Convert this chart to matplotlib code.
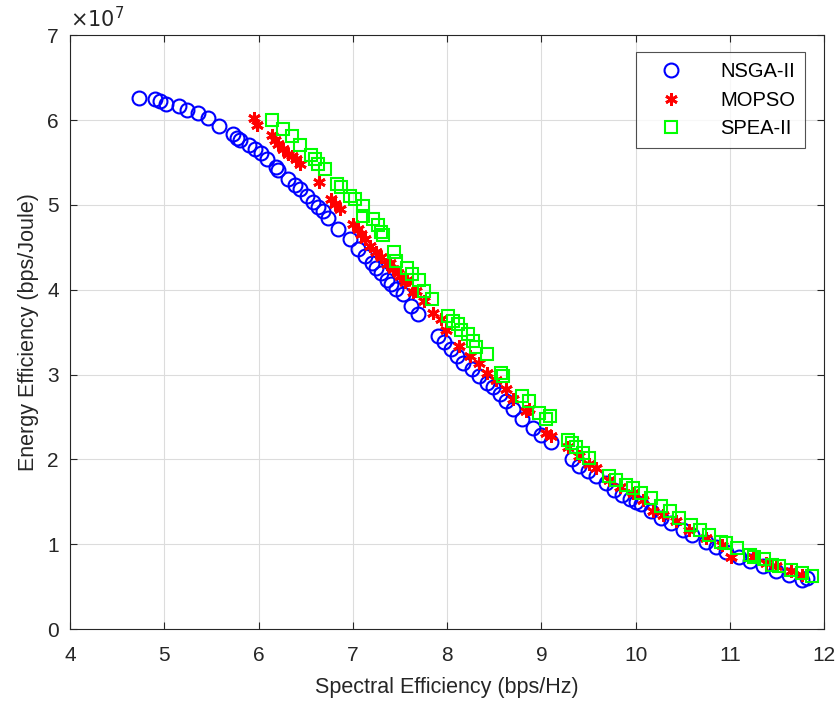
"""Pareto fronts: energy efficiency vs spectral efficiency for three optimisers."""

import matplotlib

matplotlib.use("Agg")
import matplotlib.pyplot as plt  # noqa: E402

plt.rcParams["font.family"] = ["Liberation Sans", "DejaVu Sans"]

# values (x in bps/Hz, y in units of 1e7 bps/Joule)
nsga_x = [4.73, 4.90, 4.95, 5.02, 5.16, 5.24, 5.36, 5.46, 5.58, 5.73, 5.77, 5.80,
          5.90, 5.96, 6.03, 6.09, 6.19, 6.21, 6.31, 6.39, 6.44, 6.51, 6.58, 6.63,
          6.68, 6.74, 6.84, 6.97, 7.06, 7.13, 7.20, 7.25, 7.30, 7.36, 7.41, 7.46,
          7.53, 7.62, 7.69, 7.90, 7.97, 8.04, 8.11, 8.17, 8.26, 8.34, 8.42, 8.49,
          8.56, 8.63, 8.70, 8.80, 8.91, 9.00, 9.10, 9.32, 9.40, 9.49, 9.58, 9.69,
          9.77, 9.86, 9.94, 10.00, 10.06, 10.16, 10.27, 10.37, 10.50, 10.60, 10.75,
          10.85, 10.96, 11.10, 11.21, 11.35, 11.49, 11.63, 11.77, 11.82]
nsga_y = [6.26, 6.25, 6.22, 6.19, 6.17, 6.12, 6.08, 6.02, 5.93, 5.84, 5.79, 5.76,
          5.70, 5.66, 5.61, 5.54, 5.45, 5.41, 5.31, 5.23, 5.19, 5.11, 5.03, 4.97,
          4.93, 4.85, 4.72, 4.60, 4.48, 4.40, 4.32, 4.26, 4.20, 4.12, 4.07, 4.01,
          3.95, 3.81, 3.71, 3.46, 3.38, 3.30, 3.22, 3.14, 3.06, 2.98, 2.90, 2.85,
          2.77, 2.69, 2.59, 2.47, 2.37, 2.29, 2.21, 2.00, 1.92, 1.86, 1.80, 1.72,
          1.64, 1.58, 1.53, 1.50, 1.47, 1.39, 1.31, 1.25, 1.17, 1.11, 1.03,
          0.97, 0.91, 0.85, 0.80, 0.74, 0.68, 0.64, 0.58, 0.60]

mopso_x = [5.95, 5.98, 6.14, 6.17, 6.21, 6.26, 6.31, 6.35, 6.40, 6.44, 6.64, 6.77,
           6.81, 6.86, 7.00, 7.06, 7.09, 7.13, 7.18, 7.25, 7.30, 7.36, 7.39, 7.43,
           7.48, 7.50, 7.55, 7.57, 7.64, 7.67, 7.76, 7.85, 7.94, 7.99, 8.13, 8.24,
           8.34, 8.42, 8.52, 8.63, 8.70, 8.84, 8.87, 9.05, 9.10, 9.28, 9.40, 9.51,
           9.58, 9.72, 9.83, 9.97, 10.08, 10.18, 10.29, 10.43, 10.57, 10.75,
           10.92, 11.01, 11.24, 11.38, 11.49, 11.65, 11.77]
mopso_y = [6.02, 5.94, 5.82, 5.76, 5.72, 5.66, 5.60, 5.58, 5.54, 5.48, 5.27, 5.07,
           5.01, 4.95, 4.78, 4.72, 4.66, 4.60, 4.52, 4.44, 4.38, 4.30, 4.32, 4.24,
           4.20, 4.16, 4.09, 4.11, 3.97, 3.99, 3.87, 3.73, 3.65, 3.53, 3.34, 3.22,
           3.14, 3.02, 2.94, 2.83, 2.71, 2.57, 2.59, 2.31, 2.27, 2.15, 2.04, 1.94,
           1.90, 1.76, 1.68, 1.60, 1.52, 1.39, 1.35, 1.27, 1.17, 1.07,
           0.99, 0.85, 0.85, 0.78, 0.74, 0.68, 0.64]

spea_x = [6.14, 6.26, 6.35, 6.44, 6.56, 6.60, 6.63, 6.70, 6.83, 6.88, 6.97, 7.02,
          7.11, 7.11, 7.21, 7.27, 7.30, 7.32, 7.44, 7.46, 7.58, 7.63, 7.70,
          7.76, 7.84, 8.01, 8.06, 8.12, 8.15, 8.22, 8.27, 8.31, 8.42, 8.57, 8.59,
          8.80, 8.87, 8.98, 9.05, 9.09, 9.28, 9.32, 9.37, 9.44, 9.51, 9.72, 9.79,
          9.90, 9.97, 10.06, 10.16, 10.27, 10.36, 10.46, 10.59, 10.68, 10.78,
          10.91, 10.96, 11.08, 11.21, 11.26, 11.36, 11.45, 11.52, 11.65, 11.77,
          11.87]
spea_y = [6.00, 5.90, 5.81, 5.71, 5.59, 5.54, 5.48, 5.42, 5.25, 5.21, 5.11, 5.07,
          4.99, 4.87, 4.83, 4.76, 4.68, 4.64, 4.44, 4.34, 4.26, 4.18, 4.12,
          3.99, 3.89, 3.69, 3.63, 3.59, 3.53, 3.48, 3.40, 3.32, 3.24, 3.02, 2.98,
          2.75, 2.69, 2.55, 2.47, 2.51, 2.23, 2.19, 2.15, 2.08, 2.02, 1.80, 1.76,
          1.70, 1.66, 1.60, 1.54, 1.45, 1.39, 1.31, 1.23, 1.17, 1.11,
          1.03, 1.01, 0.95, 0.87, 0.85, 0.82, 0.76, 0.74, 0.70, 0.66,
          0.62]

SCALE = 1e7

fig = plt.figure(figsize=(8.38, 7.04), dpi=100)
ax = fig.add_axes([0.0835, 0.1065, 0.900, 0.8435])

ax.plot(nsga_x, [v * SCALE for v in nsga_y], ls="none", marker="o", ms=10,
        mfc="none", mec="#0000ff", mew=1.5, label="NSGA-II")
ax.plot(mopso_x, [v * SCALE for v in mopso_y], ls="none", marker=(6, 2, 0), ms=9,
        mec="#ff0000", mew=2.0, label="MOPSO")
ax.plot(spea_x, [v * SCALE for v in spea_y], ls="none", marker="s", ms=9,
        mfc="none", mec="#00ff00", mew=1.5, label="SPEA-II")

ax.set_xlim(4, 12)
ax.set_ylim(0, 7 * SCALE)
ax.set_xticks(range(4, 13))
ax.set_yticks([i * SCALE for i in range(8)])
ax.set_yticklabels([str(i) for i in range(8)])
ax.tick_params(direction="in", top=True, right=True, labelsize=15,
               colors="#262626", length=5, width=0.8)
ax.tick_params(axis="x", pad=12)
ax.tick_params(axis="y", pad=8)
ax.grid(True, color="#dcdcdc", lw=0.8)
ax.set_axisbelow(True)
for sp in ax.spines.values():
    sp.set_color("#262626")
    sp.set_linewidth(0.8)

ax.set_xlabel("Spectral Efficiency (bps/Hz)", fontsize=15.5, color="#262626",
              labelpad=9)
ax.set_ylabel("Energy Efficiency (bps/Joule)", fontsize=15.5, color="#262626",
              labelpad=6)
ax.text(0.0, 1.006, r"$\times10^{7}$", transform=ax.transAxes, fontsize=15,
        color="#262626", ha="left", va="bottom", family="DejaVu Sans")

leg = ax.legend(loc="upper right", fontsize=14.5, frameon=True, fancybox=False,
                edgecolor="#262626", borderpad=0.5, handletextpad=1.2,
                labelspacing=0.45, handlelength=2.5, borderaxespad=0,
                bbox_to_anchor=(0.975, 0.971))
leg.get_frame().set_linewidth(0.8)

fig.savefig("out.png", dpi=100)
